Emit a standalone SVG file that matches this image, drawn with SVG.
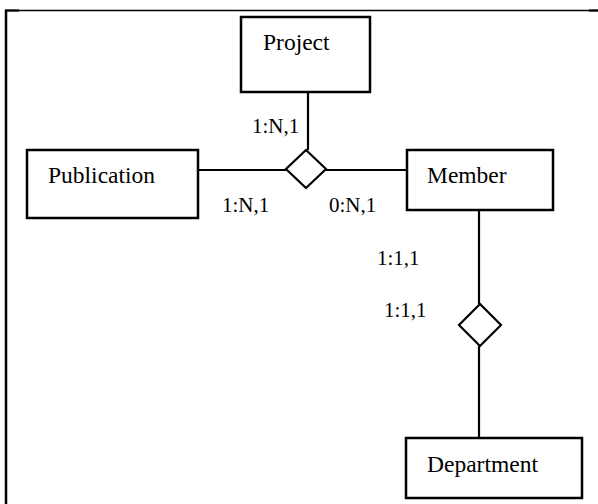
<svg xmlns="http://www.w3.org/2000/svg" width="598" height="504" viewBox="0 0 598 504">
<style>
.box{fill:#fff;stroke:#000;stroke-width:2.5}
.dia{fill:#fff;stroke:#000;stroke-width:2.2}
.ln{stroke:#000;stroke-width:2.2;fill:none}
.t{font-family:"Liberation Serif","Times New Roman",serif;font-size:23.5px;fill:#000}
.c{font-family:"Liberation Serif","Times New Roman",serif;font-size:21px;fill:#000}
</style>
<rect width="598" height="504" fill="#fff"/>
<g id="frame">
<line x1="5" y1="10.5" x2="598" y2="10.5" stroke="#000" stroke-width="1.3"/>
<line x1="5" y1="10.5" x2="19" y2="10.5" stroke="#000" stroke-width="2.2"/>
<line x1="589" y1="10.5" x2="598" y2="10.5" stroke="#000" stroke-width="2.2"/>
<line x1="6" y1="10" x2="6" y2="504" stroke="#000" stroke-width="2.5"/>
</g>
<g id="connectors">
<line class="ln" x1="308" y1="92" x2="308" y2="150"/>
<line class="ln" x1="198" y1="170" x2="286" y2="170"/>
<line class="ln" x1="326" y1="170" x2="407" y2="170"/>
<line class="ln" x1="479" y1="210" x2="479" y2="304"/>
<line class="ln" x1="479" y1="346" x2="479" y2="438"/>
</g>
<g id="project"><rect class="box" x="241" y="17" width="129" height="75"/><text class="t" x="263" y="50">Project</text></g>
<g id="publication"><rect class="box" x="27" y="150" width="171" height="68"/><text class="t" x="48" y="183">Publication</text></g>
<g id="member"><rect class="box" x="407" y="150" width="146" height="60"/><text class="t" x="427" y="183">Member</text></g>
<g id="department"><rect class="box" x="406" y="438" width="176" height="60"/><text class="t" x="427" y="472">Department</text></g>
<g id="rel1"><polygon class="dia" points="306,150 326,169 306,188 286,169"/></g>
<g id="rel2"><polygon class="dia" points="480,304 501,325 480,346 459,325"/></g>
<g id="labels">
<text class="c" x="252" y="133">1:N,1</text>
<text class="c" x="222" y="212">1:N,1</text>
<text class="c" x="329" y="212">0:N,1</text>
<text class="c" x="377" y="265">1:1,1</text>
<text class="c" x="384" y="317">1:1,1</text>
</g>
</svg>
